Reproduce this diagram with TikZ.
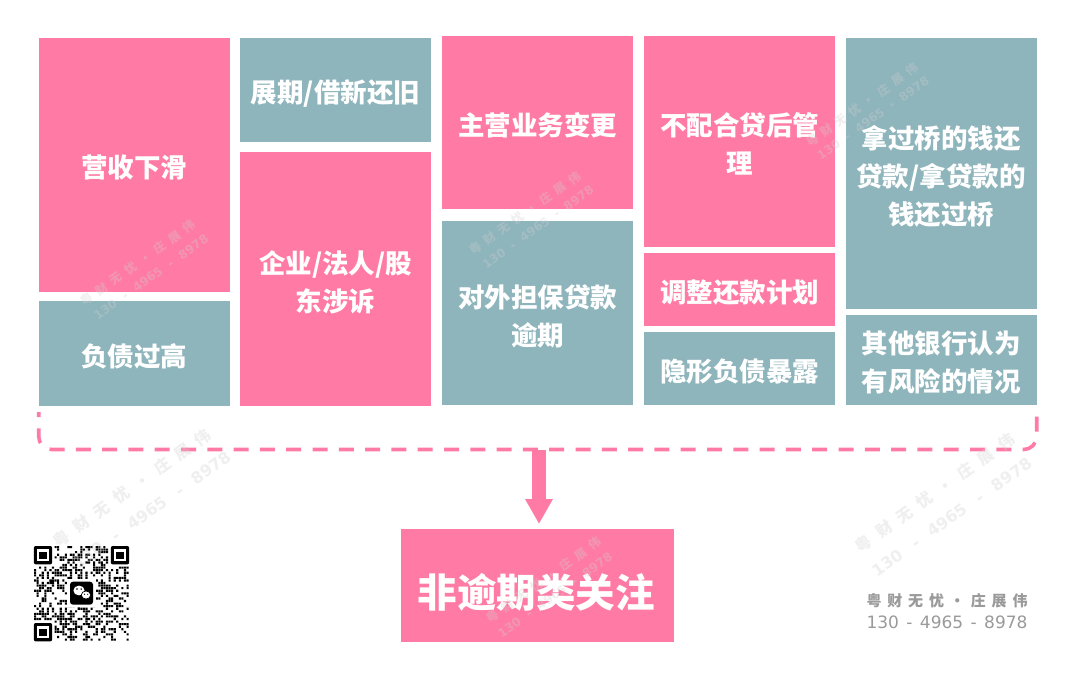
\documentclass[tikz,border=0pt]{standalone}
\usepackage{fontspec}
\usepackage{graphicx}
\usetikzlibrary{arrows.meta}
\setmainfont{Noto Sans CJK SC}
\newfontfamily\latinwm{DejaVu Sans}
\definecolor{cellpink}{HTML}{FF7BA5}
\definecolor{cellteal}{HTML}{8FB5BC}
\definecolor{wmgray}{HTML}{D0D0D0}
\definecolor{footgray}{HTML}{9A9A9A}
\tikzset{
  cellpinkbox/.style={fill=cellpink,draw=none,inner sep=0pt,outer sep=0pt},
  celltealbox/.style={fill=cellteal,draw=none,inner sep=0pt,outer sep=0pt},
  celltext/.style={text=white,align=center,inner sep=0pt,font=\bfseries\fontsize{26.5}{38}\selectfont},
  wmtext/.style={text=wmgray,text opacity=.32,inner sep=0pt,rotate=35.5},
  foottext/.style={text=footgray,inner sep=0pt},
  bracket/.style={draw=cellpink,line width=3.6pt,rounded corners=13pt,dash pattern=on 15pt off 11.3pt,dash phase=10pt},
  bigarrow/.style={draw=cellpink,line width=14pt,-{Triangle[width=26pt,length=25pt,fill=cellpink]},shorten >=5pt}
}
% name, x0, y0, x1, y1, style, text
\newcommand{\cellbox}[7]{%
  \pgfmathsetmacro{\cx}{(#2+#4)/2}\pgfmathsetmacro{\cy}{(#3+#5)/2}%
  \pgfmathsetmacro{\cw}{#4-#2}\pgfmathsetmacro{\ch}{#5-#3}%
  \node[#6,minimum width=\cw pt,minimum height=\ch pt] (#1) at (\cx,\cy) {};
  \node[celltext] (#1t) at ([yshift=-3pt]#1.center) {#7};
}
% wm name, line1 cx,cy, line2 cx,cy, width, font size
\newcommand{\wmark}[7]{%
  \node[wmtext,font=\bfseries\fontsize{#7}{#7}\selectfont] (#1a) at (#2,#3) {\hbox to #6pt{粤\hfil 财\hfil 无\hfil 忧\hfil ·\hfil 庄\hfil 展\hfil 伟}};
  \node[wmtext,font=\latinwm\bfseries\fontsize{#7}{#7}\selectfont] (#1b) at (#4,#5) {\hbox to #6pt{130\hfil -\hfil 4965\hfil -\hfil 8978}};
}
\begin{document}
\begin{tikzpicture}[x=1pt,y=-1pt]
\useasboundingbox (0,0) rectangle (1080,674);
\fill[white] (0,0) rectangle (1080,674);

\cellbox{a}{38.5}{38}{229.5}{291.7}{cellpinkbox}{营收下滑}
\cellbox{b}{38.5}{301}{229.5}{405.7}{celltealbox}{负债过高}
\cellbox{c}{240}{38}{431}{142.5}{celltealbox}{展期/借新还旧}
\cellbox{d}{240}{152}{431}{405.7}{cellpinkbox}{企业/法人/股\\东涉诉}
\cellbox{e}{442}{36}{633}{209.5}{cellpinkbox}{主营业务变更}
\cellbox{f}{442}{221.5}{633}{405}{celltealbox}{对外担保贷款\\逾期}
\cellbox{g}{644}{36}{835}{246.5}{cellpinkbox}{不配合贷后管\\理}
\cellbox{h}{644}{253}{835}{325.5}{cellpinkbox}{调整还款计划}
\cellbox{i}{644}{332}{835}{405}{celltealbox}{隐形负债暴露}
\cellbox{j}{845.5}{38.5}{1036.5}{308.5}{celltealbox}{拿过桥的钱还\\贷款/拿贷款的\\钱还过桥}
\cellbox{k}{845.5}{315}{1036.5}{405}{celltealbox}{其他银行认为\\有风险的情况}

% target
\node[cellpinkbox,minimum width=273pt,minimum height=113pt] (target) at (537.5,585.5) {};
\node[text=white,inner sep=0pt,font=\bfseries\fontsize{39.5}{40}\selectfont] (targett) at (536,592) {非逾期类关注};

% bracket and arrow
\coordinate (bl) at (38.7,412);
\coordinate (br) at (1036.7,412);
\coordinate (bm) at (539,449.5);
\draw[bracket] (bl) -- (38.7,449.5) -- (1036.7,449.5) -- (br);
\draw[bigarrow] (bm) -- (bm |- target.north);

% QR code
\begin{scope}
\pgfmathsetseed{4965}
\fill[black]
\foreach \i in {0,...,36}{\foreach \j in {0,...,36}{
  \pgfextra{\pgfmathsetmacro{\qr}{rnd}\pgfmathtruncatemacro{\qon}{\qr<0.46?1:0}%
  \pgfmathtruncatemacro{\qskip}{((\i<8&&\j<8)||(\i>28&&\j<8)||(\i<8&&\j>28))?1:0}%
  \ifnum\qskip=1 \gdef\qon{0}\fi}
  \ifnum\qon=1 (34+\i*2.57,546+\j*2.57) rectangle ++(2.1,2.1) \fi
}};
\foreach \fx/\fy in {33.8/546,110.8/546,33.8/623}{
  \fill[black,rounded corners=2pt] (\fx,\fy) rectangle ++(18.4,18.4);
  \fill[white] (\fx+3,\fy+3) rectangle ++(12.4,12.4);
  \fill[black] (\fx+5.6,\fy+5.6) rectangle ++(7.2,7.2);
}
\fill[white] (67,579) rectangle (96,607);
\fill[black,rounded corners=3pt] (70,581.7) rectangle (93,604.7);
\fill[white] (79,590.5) ellipse (5.6 and 4.9);
\fill[white] (86,595) ellipse (4.7 and 4);
\draw[black,line width=.7pt] (86,595) ellipse (4.7 and 4);
\fill[black] (77,589) circle (.8) (81.2,589) circle (.8) (84.5,594.3) circle (.6) (87.7,594.3) circle (.6);
\end{scope}

% footer
\node[foottext,font=\bfseries\fontsize{15}{16}\selectfont] (foot1) at (947,600.5) {\hbox to 161pt{粤\hfil 财\hfil 无\hfil 忧\hfil ·\hfil 庄\hfil 展\hfil 伟}};
\node[foottext,font=\latinwm\fontsize{17}{18}\selectfont] (foot2) at (947,622.5) {\hbox to 161pt{130\hfil -\hfil 4965\hfil -\hfil 8978}};

% watermarks
\wmark{w1}{138}{263}{151}{277}{137}{12}
\wmark{w2}{525}{213}{538}{227}{133}{12}
\wmark{w3}{862}{105}{873}{118}{134}{12}
\wmark{w4}{544}{580}{555}{595}{137}{12}
\wmark{w5}{132}{488}{152}{510}{190}{16}
\wmark{w6}{935}{493}{952}{517}{191}{16}
\end{tikzpicture}
\end{document}
